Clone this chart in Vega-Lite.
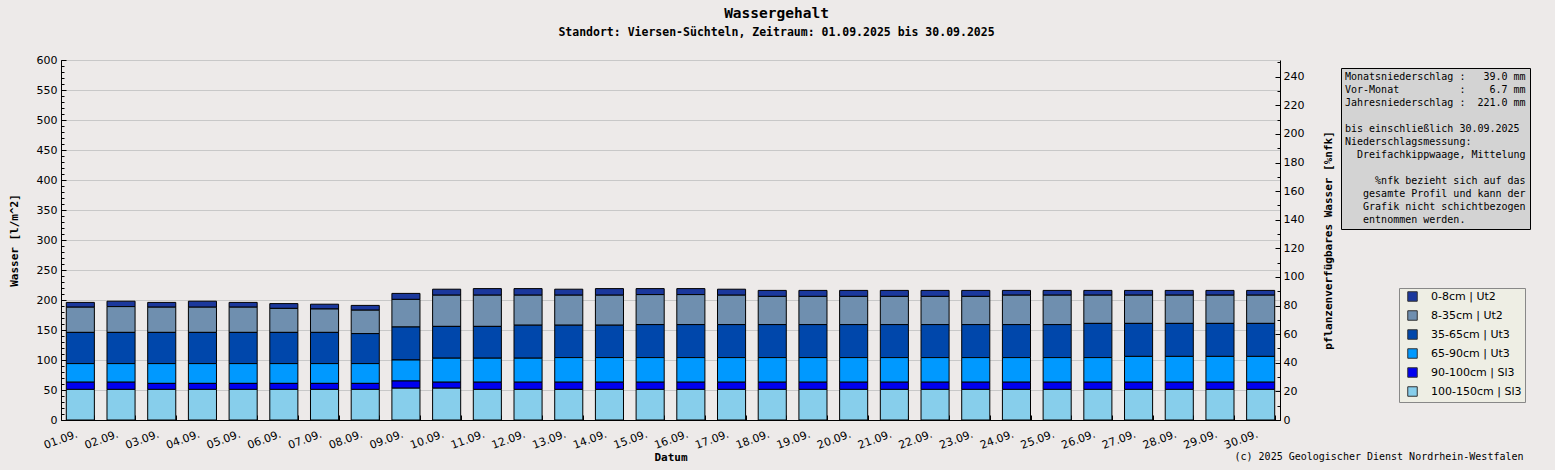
{
  "$schema": "https://vega.github.io/schema/vega-lite/v6.json",
  "description": "Wassergehalt Viersen-Süchteln, September 2025",
  "autosize": {"type": "none"},
  "padding": {"left": 61, "top": 60, "right": 275, "bottom": 50},
  "width": 1219,
  "height": 360,
  "background": "#EDEAE9",
  "config": {
    "view": {"fill": "white", "stroke": null},
    "axis": {
      "labelFont": "DejaVu Sans",
      "labelFontSize": 11,
      "labelColor": "black",
      "domainColor": "black",
      "tickColor": "black",
      "titleFont": "DejaVu Sans Mono",
      "titleFontSize": 11,
      "titleFontWeight": "bold",
      "titleColor": "black"
    }
  },
  "title": {
    "text": "Wassergehalt",
    "subtitle": "Standort: Viersen-Süchteln, Zeitraum: 01.09.2025 bis 30.09.2025",
    "font": "DejaVu Sans Mono",
    "fontSize": 14.5,
    "fontWeight": "bold",
    "color": "black",
    "subtitleFont": "DejaVu Sans Mono",
    "subtitleFontSize": 11.5,
    "subtitleFontWeight": "bold",
    "subtitleColor": "black",
    "subtitlePadding": 5,
    "anchor": "middle",
    "dx": 106,
    "offset": 15
  },
  "datasets": {
    "soil": [
      {"day": "01.09.", "cm0_8": 8, "cm8_35": 42, "cm35_65": 52, "cm65_90": 31, "cm90_100": 12, "cm100_150": 51},
      {"day": "02.09.", "cm0_8": 9, "cm8_35": 43, "cm35_65": 52, "cm65_90": 31, "cm90_100": 12, "cm100_150": 51},
      {"day": "03.09.", "cm0_8": 8, "cm8_35": 42, "cm35_65": 52, "cm65_90": 33, "cm90_100": 10, "cm100_150": 51},
      {"day": "04.09.", "cm0_8": 10, "cm8_35": 42, "cm35_65": 52, "cm65_90": 33, "cm90_100": 10, "cm100_150": 51},
      {"day": "05.09.", "cm0_8": 8, "cm8_35": 42, "cm35_65": 52, "cm65_90": 33, "cm90_100": 10, "cm100_150": 51},
      {"day": "06.09.", "cm0_8": 8, "cm8_35": 40, "cm35_65": 52, "cm65_90": 33, "cm90_100": 10, "cm100_150": 51},
      {"day": "07.09.", "cm0_8": 8, "cm8_35": 39, "cm35_65": 52, "cm65_90": 33, "cm90_100": 10, "cm100_150": 51},
      {"day": "08.09.", "cm0_8": 8, "cm8_35": 39, "cm35_65": 50, "cm65_90": 33, "cm90_100": 10, "cm100_150": 51},
      {"day": "09.09.", "cm0_8": 10, "cm8_35": 46, "cm35_65": 55, "cm65_90": 35, "cm90_100": 12, "cm100_150": 53},
      {"day": "10.09.", "cm0_8": 10, "cm8_35": 52, "cm35_65": 53, "cm65_90": 40, "cm90_100": 10, "cm100_150": 53},
      {"day": "11.09.", "cm0_8": 11, "cm8_35": 52, "cm35_65": 53, "cm65_90": 40, "cm90_100": 12, "cm100_150": 51},
      {"day": "12.09.", "cm0_8": 11, "cm8_35": 50, "cm35_65": 55, "cm65_90": 40, "cm90_100": 12, "cm100_150": 51},
      {"day": "13.09.", "cm0_8": 10, "cm8_35": 50, "cm35_65": 54, "cm65_90": 41, "cm90_100": 12, "cm100_150": 51},
      {"day": "14.09.", "cm0_8": 11, "cm8_35": 50, "cm35_65": 54, "cm65_90": 41, "cm90_100": 12, "cm100_150": 51},
      {"day": "15.09.", "cm0_8": 10, "cm8_35": 50, "cm35_65": 55, "cm65_90": 41, "cm90_100": 12, "cm100_150": 51},
      {"day": "16.09.", "cm0_8": 10, "cm8_35": 50, "cm35_65": 55, "cm65_90": 41, "cm90_100": 12, "cm100_150": 51},
      {"day": "17.09.", "cm0_8": 10, "cm8_35": 49, "cm35_65": 55, "cm65_90": 41, "cm90_100": 12, "cm100_150": 51},
      {"day": "18.09.", "cm0_8": 10, "cm8_35": 47, "cm35_65": 55, "cm65_90": 41, "cm90_100": 12, "cm100_150": 51},
      {"day": "19.09.", "cm0_8": 10, "cm8_35": 47, "cm35_65": 55, "cm65_90": 41, "cm90_100": 12, "cm100_150": 51},
      {"day": "20.09.", "cm0_8": 10, "cm8_35": 47, "cm35_65": 55, "cm65_90": 41, "cm90_100": 12, "cm100_150": 51},
      {"day": "21.09.", "cm0_8": 10, "cm8_35": 47, "cm35_65": 55, "cm65_90": 41, "cm90_100": 12, "cm100_150": 51},
      {"day": "22.09.", "cm0_8": 10, "cm8_35": 47, "cm35_65": 55, "cm65_90": 41, "cm90_100": 12, "cm100_150": 51},
      {"day": "23.09.", "cm0_8": 10, "cm8_35": 47, "cm35_65": 55, "cm65_90": 41, "cm90_100": 12, "cm100_150": 51},
      {"day": "24.09.", "cm0_8": 8, "cm8_35": 49, "cm35_65": 55, "cm65_90": 41, "cm90_100": 12, "cm100_150": 51},
      {"day": "25.09.", "cm0_8": 8, "cm8_35": 49, "cm35_65": 55, "cm65_90": 41, "cm90_100": 12, "cm100_150": 51},
      {"day": "26.09.", "cm0_8": 8, "cm8_35": 47, "cm35_65": 57, "cm65_90": 41, "cm90_100": 12, "cm100_150": 51},
      {"day": "27.09.", "cm0_8": 8, "cm8_35": 47, "cm35_65": 55, "cm65_90": 43, "cm90_100": 12, "cm100_150": 51},
      {"day": "28.09.", "cm0_8": 8, "cm8_35": 47, "cm35_65": 55, "cm65_90": 43, "cm90_100": 12, "cm100_150": 51},
      {"day": "29.09.", "cm0_8": 8, "cm8_35": 47, "cm35_65": 55, "cm65_90": 43, "cm90_100": 12, "cm100_150": 51},
      {"day": "30.09.", "cm0_8": 8, "cm8_35": 47, "cm35_65": 55, "cm65_90": 43, "cm90_100": 12, "cm100_150": 51}
    ],
    "info": [
      {"line": "Monatsniederschlag :\u00a0\u00a0\u00a039.0 mm"},
      {"line": "Vor-Monat\u00a0\u00a0\u00a0\u00a0\u00a0\u00a0\u00a0\u00a0\u00a0\u00a0:\u00a0\u00a0\u00a0\u00a06.7 mm"},
      {"line": "Jahresniederschlag :\u00a0\u00a0221.0 mm"},
      {"line": "\u200b\u00a0"},
      {"line": "bis einschließlich 30.09.2025"},
      {"line": "Niederschlagsmessung:"},
      {"line": "\u200b\u00a0\u00a0Dreifachkippwaage, Mittelung"},
      {"line": "\u200b\u00a0\u00a0"},
      {"line": "\u200b\u00a0\u00a0\u00a0\u00a0\u00a0%nfk bezieht sich auf das"},
      {"line": "\u200b\u00a0\u00a0\u00a0gesamte Profil und kann der"},
      {"line": "\u200b\u00a0\u00a0\u00a0Grafik nicht schichtbezogen"},
      {"line": "\u200b\u00a0\u00a0\u00a0entnommen werden."}
    ],
    "nfk": [{"p": 0}, {"p": 240}]
  },
  "data": {"name": "soil"},
  "transform": [
    {"fold": ["cm0_8", "cm8_35", "cm35_65", "cm65_90", "cm90_100", "cm100_150"], "as": ["key", "v"]},
    {
      "lookup": "key",
      "from": {
        "data": {
          "values": [
            {"key": "cm0_8", "layer": "0-8cm | Ut2", "k": 5},
            {"key": "cm8_35", "layer": "8-35cm | Ut2", "k": 4},
            {"key": "cm35_65", "layer": "35-65cm | Ut3", "k": 3},
            {"key": "cm65_90", "layer": "65-90cm | Ut3", "k": 2},
            {"key": "cm90_100", "layer": "90-100cm | Sl3", "k": 1},
            {"key": "cm100_150", "layer": "100-150cm | Sl3", "k": 0}
          ]
        },
        "key": "key",
        "fields": ["layer", "k"]
      }
    }
  ],
  "layer": [
    {
      "mark": {"type": "bar", "stroke": "black", "strokeWidth": 1},
      "encoding": {
        "x": {
          "field": "day",
          "type": "ordinal",
          "scale": {"paddingInner": 0.31, "paddingOuter": 0.13},
          "axis": {
            "orient": "bottom",
            "title": "Datum",
            "titleY": 40,
            "titleBaseline": "alphabetic",
            "labelAngle": -20,
            "labelAlign": "right",
            "labelBaseline": "top",
            "labelPadding": 8,
            "labelOffset": -5,
            "labelOverlap": false,
            "ticks": false
          }
        },
        "y": {
          "field": "v",
          "type": "quantitative",
          "stack": "zero",
          "scale": {"domain": [0, 600], "nice": false},
          "axis": {
            "orient": "left",
            "values": [0, 50, 100, 150, 200, 250, 300, 350, 400, 450, 500, 550, 600],
            "tickSize": -5,
            "labelPadding": 9,
            "grid": true,
            "gridColor": "#C8C8C8",
            "title": "Wasser [l/m^2]",
            "titleAngle": 270,
            "titleX": -47,
            "titleY": 180,
            "titleAlign": "center",
            "titleBaseline": "middle"
          }
        },
        "color": {
          "field": "layer",
          "type": "nominal",
          "scale": {
            "domain": ["0-8cm | Ut2", "8-35cm | Ut2", "35-65cm | Ut3", "65-90cm | Ut3", "90-100cm | Sl3", "100-150cm | Sl3"],
            "range": ["#1B389C", "#6F8FAF", "#0047AB", "#0099FF", "#0000F0", "#87CEEB"]
          },
          "legend": {
            "title": null,
            "orient": "none",
            "legendX": 1338,
            "legendY": 228,
            "fillColor": "#EEEEE4",
            "strokeColor": "#888888",
            "padding": 3,
            "symbolType": "square",
            "symbolSize": 90,
            "symbolStrokeColor": "#333333",
            "symbolStrokeWidth": 1,
            "symbolOffset": 5,
            "labelFont": "DejaVu Sans",
            "labelFontSize": 11,
            "labelColor": "black",
            "labelOffset": 13,
            "labelLimit": 0,
            "rowPadding": 4
          }
        },
        "order": {"field": "k", "type": "quantitative", "sort": "ascending"}
      }
    },
    {
      "mark": {"type": "point", "opacity": 0},
      "encoding": {
        "x": {
          "field": "day",
          "type": "ordinal",
          "axis": {
            "orient": "bottom",
            "labels": false,
            "domain": false,
            "tickBand": "extent",
            "tickSize": -5,
            "title": "(c) 2025 Geologischer Dienst Nordrhein-Westfalen",
            "titleFont": "DejaVu Sans Mono",
            "titleFontWeight": "normal",
            "titleFontSize": 10,
            "titleAlign": "right",
            "titleX": 1462,
            "titleY": 39,
            "titleBaseline": "alphabetic"
          }
        },
        "y": {
          "field": "v",
          "type": "quantitative",
          "scale": {"domain": [0, 600], "nice": false},
          "axis": {
            "orient": "left",
            "values": [0, 10, 20, 30, 40, 50, 60, 70, 80, 90, 100, 110, 120, 130, 140, 150, 160, 170, 180, 190, 200, 210, 220, 230, 240, 250, 260, 270, 280, 290, 300, 310, 320, 330, 340, 350, 360, 370, 380, 390, 400, 410, 420, 430, 440, 450, 460, 470, 480, 490, 500, 510, 520, 530, 540, 550, 560, 570, 580, 590, 600],
            "tickSize": -3,
            "labels": false,
            "domain": false,
            "grid": false,
            "title": null
          }
        }
      }
    },
    {
      "data": {"name": "nfk"},
      "mark": {"type": "rule", "opacity": 0},
      "encoding": {
        "y": {
          "field": "p",
          "type": "quantitative",
          "scale": {"domain": [0, 251.7], "nice": false},
          "axis": {
            "orient": "right",
            "values": [0, 20, 40, 60, 80, 100, 120, 140, 160, 180, 200, 220, 240],
            "tickSize": -5,
            "labelPadding": 8,
            "grid": false,
            "title": "pflanzenverfügbares Wasser [%nfk]",
            "titleAngle": 270,
            "titleX": 48,
            "titleY": 180,
            "titleAlign": "center",
            "titleBaseline": "middle"
          }
        }
      }
    },
    {
      "data": {"name": "nfk"},
      "mark": {"type": "rule", "opacity": 0},
      "encoding": {
        "y": {
          "field": "p",
          "type": "quantitative",
          "scale": {"domain": [0, 251.7], "nice": false},
          "axis": {
            "orient": "right",
            "values": [0, 10, 20, 30, 40, 50, 60, 70, 80, 90, 100, 110, 120, 130, 140, 150, 160, 170, 180, 190, 200, 210, 220, 230, 240, 250],
            "tickSize": -3,
            "labels": false,
            "domain": false,
            "grid": false,
            "title": null
          }
        }
      }
    },
    {
      "data": {"name": "info"},
      "mark": {"type": "point", "opacity": 0},
      "encoding": {
        "shape": {
          "field": "line",
          "type": "nominal",
          "sort": null,
          "scale": {"range": ["square"]},
          "legend": {
            "title": null,
            "orient": "none",
            "legendX": 1280,
            "legendY": 8,
            "fillColor": "#D3D3D3",
            "strokeColor": "black",
            "padding": 4,
            "symbolSize": 0,
            "symbolOpacity": 0,
            "symbolStrokeWidth": 0,
            "symbolOffset": 0,
            "labelOffset": -10,
            "labelFont": "DejaVu Sans Mono",
            "labelFontSize": 10,
            "labelColor": "black",
            "labelLimit": 0,
            "rowPadding": 3
          }
        }
      }
    }
  ],
  "resolve": {
    "scale": {"y": "independent"},
    "axis": {"x": "independent", "y": "independent"}
  }
}
